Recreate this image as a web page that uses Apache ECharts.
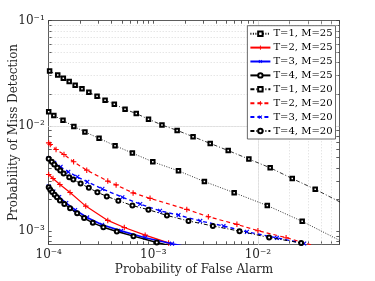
<!DOCTYPE html>
<html><head><meta charset="utf-8">
<script src="https://cdn.jsdelivr.net/npm/echarts@6/dist/echarts.min.js"></script>
<style>html,body{margin:0;padding:0;background:#fff}#c{width:375px;height:281px}</style>
</head><body><div id="c"></div>
<script>
// ---- data ----
const seriesNames = ['T=1, M=25','T=2, M=25','T=3, M=25','T=4, M=25','T=1, M=20','T=2, M=20','T=3, M=20','T=4, M=20'];
const xTickLabels = [1e-4, 1e-3, 1e-2];
const yTickLabels = [1e-3, 1e-2, 1e-1];

const t1m25 = [[1.0e-4,0.0136],[1.12e-4,0.01253],[1.37e-4,0.0113],[1.74e-4,0.0099],[2.22e-4,0.00877],[3.03e-4,0.00762],[4.31e-4,0.00649],[6.31e-4,0.00552],[9.89e-4,0.00456],[1.74e-3,0.00374],[3.08e-3,0.00296],[5.93e-3,0.00232],[0.0123,0.00175],[0.0265,0.00124],[0.063,0.00080]];
const t2m25 = [[1.0e-4,0.00345],[1.10e-4,0.00317],[1.28e-4,0.00278],[1.60e-4,0.00233],[2.26e-4,0.00173],[3.67e-4,0.001265],[5.28e-4,0.001084],[8.36e-4,0.000916],[1.40e-3,0.000773],[2.25e-3,0.000659]];
const t3m25 = [[1.0e-4,0.00266],[1.11e-4,0.00238],[1.26e-4,0.00211],[1.47e-4,0.00185],[1.79e-4,0.00159],[2.33e-4,0.00135],[3.24e-4,0.00115],[4.92e-4,0.001006],[8.36e-4,0.000867],[1.51e-3,0.00076],[2.81e-3,0.000666]];
const t4m25 = [[1.0e-4,0.00261],[1.035e-4,0.00248],[1.08e-4,0.00236],[1.14e-4,0.00222],[1.20e-4,0.0021],[1.28e-4,0.00196],[1.41e-4,0.00181],[1.60e-4,0.00165],[1.87e-4,0.00148],[2.18e-4,0.00133],[2.64e-4,0.0012],[3.33e-4,0.00109],[4.48e-4,0.000993],[6.46e-4,0.000896],[1.08e-3,0.00078],[2.01e-3,0.000673]];
const t1m20 = [[1.02e-4,0.0333],[1.22e-4,0.0304],[1.38e-4,0.0284],[1.57e-4,0.0264],[1.79e-4,0.0244],[2.08e-4,0.0226],[2.42e-4,0.0209],[2.90e-4,0.0191],[3.46e-4,0.0175],[4.24e-4,0.0161],[5.37e-4,0.0144],[6.87e-4,0.0131],[9.0e-4,0.0116],[1.21e-3,0.0102],[1.69e-3,0.00907],[2.40e-3,0.0079],[3.50e-3,0.00682],[5.2e-3,0.00583],[8.2e-3,0.00484],[0.0131,0.0040],[0.0213,0.00316],[0.0353,0.0025],[0.063,0.00186]];
const t2m20 = [[1.0e-4,0.0069],[1.035e-4,0.00667],[1.175e-4,0.00597],[1.40e-4,0.00535],[1.73e-4,0.00456],[2.31e-4,0.0038],[3.67e-4,0.00299],[4.41e-4,0.00275],[6.41e-4,0.00231],[9.31e-4,0.00205],[2.09e-3,0.00161],[3.36e-3,0.00137],[6.3e-3,0.00116],[0.0100,0.00101],[0.0186,0.000867],[0.0331,0.000735]];
const t3m20 = [[1.0e-4,0.00491],[1.13e-4,0.00447],[1.30e-4,0.00408],[1.54e-4,0.00366],[1.88e-4,0.00328],[2.34e-4,0.00294],[3.26e-4,0.00252],[5.06e-4,0.0021],[7.5e-4,0.00181],[1.16e-3,0.00156],[1.74e-3,0.00142],[2.81e-3,0.00125],[4.69e-3,0.00112],[7.85e-3,0.000985],[0.0152,0.000863],[0.0277,0.000763]];
const t4m20 = [[1.0e-4,0.00488],[1.07e-4,0.00456],[1.13e-4,0.0043],[1.21e-4,0.0040],[1.29e-4,0.00377],[1.39e-4,0.00353],[1.57e-4,0.00326],[1.72e-4,0.00309],[2.02e-4,0.00283],[2.42e-4,0.00258],[2.92e-4,0.00234],[3.59e-4,0.00214],[4.63e-4,0.00195],[6.31e-4,0.00175],[8.98e-4,0.0016],[1.35e-3,0.00141],[2.17e-3,0.00125],[3.71e-3,0.00112],[6.67e-3,0.0010],[0.0128,0.00087],[0.0259,0.000773]];

// ---- presentation ----
const X_MIN = 1e-4, X_MAX = 0.06, Y_MIN = 7.5e-4, Y_MAX = 0.1;
const FONT = 'DejaVu Serif';
const PLUS = 'path://M4,0H6V4H10V6H6V10H4V6H0V4H4Z';

function logTicks(min, max) {
  const out = [];
  for (let e = -6; e <= 0; e++) for (let m = 1; m <= 9; m++) {
    const v = +(m * Math.pow(10, e)).toPrecision(3);
    if (v >= min * 0.9999 && v <= max * 1.0001) out.push(v);
  }
  return out;
}
const xTicks = logTicks(X_MIN, X_MAX);
const yTicks = logTicks(Y_MIN, Y_MAX);
const isMajor = v => Math.abs(Math.log10(v) - Math.round(Math.log10(v))) < 1e-6;

const gridLines = [];
xTicks.forEach(v => { if (v > X_MIN && v < X_MAX) gridLines.push({xAxis: v, lineStyle: isMajor(v) ? {type:'solid', color:'#e2e2e2', width:0.8} : {type:[1,2], color:'#d0d0d0', width:0.8}}); });
yTicks.forEach(v => { if (v > Y_MIN && v < Y_MAX) gridLines.push({yAxis: v, lineStyle: isMajor(v) ? {type:'solid', color:'#e2e2e2', width:0.8} : {type:[1,2], color:'#d0d0d0', width:0.8}}); });

const SUP = {'0':'\u2070','1':'\u00b9','2':'\u00b2','3':'\u00b3','4':'\u2074','5':'\u2075','6':'\u2076','7':'\u2077','8':'\u2078','9':'\u2079','-':'\u207b'};
function fmt(v) {
  const e = String(Math.round(Math.log10(v)));
  return '10' + e.split('').map(c => SUP[c]).join('');
}
const axisLine = {show: true, lineStyle: {color: '#333', width: 0.8}};
const tickStyle = {color: '#333', width: 0.8};

function xAx(pos, main) {
  return {
    type: 'log', logBase: 10, min: X_MIN, max: X_MAX, position: pos,
    axisLine, splitLine: {show: false},
    axisTick: {show: true, inside: true, length: 3, customValues: xTicks, lineStyle: tickStyle},
    axisLabel: main ? {show: true, customValues: xTickLabels, formatter: fmt, align: 'center', margin: 5,
                       fontFamily: FONT, fontSize: 12, color: '#262626'} : {show: false},
    name: main ? 'Probability of False Alarm' : '', nameLocation: 'middle', nameGap: 20, nameMoveOverlap: false,
    nameTextStyle: {fontFamily: FONT, fontSize: 12, color: '#262626'}
  };
}
function yAx(pos, main) {
  return {
    type: 'log', logBase: 10, min: Y_MIN, max: Y_MAX, position: pos,
    axisLine, splitLine: {show: false},
    axisTick: {show: true, inside: true, length: 3, customValues: yTicks, lineStyle: tickStyle},
    axisLabel: main ? {show: true, customValues: yTickLabels, formatter: fmt, align: 'right', margin: 4,
                       fontFamily: FONT, fontSize: 12, color: '#262626'} : {show: false},
    name: main ? 'Probability of Miss Detection' : '', nameLocation: 'middle', nameGap: 29, nameMoveOverlap: false,
    nameTextStyle: {fontFamily: FONT, fontSize: 12, color: '#262626'}
  };
}

const styles = [
  {data: t1m25, color: '#000', type: [1,1.5], width: 0.8, symbol: 'emptyRect', size: 3.5},
  {data: t2m25, color: '#ff0000', type: 'solid', width: 1.2, symbol: PLUS, size: 5.5},
  {data: t3m25, color: '#0000ff', type: 'solid', width: 1.6, symbol: PLUS, size: 5.5, rot: 45},
  {data: t4m25, color: '#000', type: 'solid', width: 1.4, symbol: 'emptyCircle', size: 4},
  {data: t1m20, color: '#000', type: [4,2,1,2], width: 0.8, symbol: 'emptyRect', size: 3.5},
  {data: t2m20, color: '#ff0000', type: [4,3], width: 1.2, symbol: PLUS, size: 5.5},
  {data: t3m20, color: '#0000ff', type: [4,3], width: 1.4, symbol: PLUS, size: 5.5, rot: 45},
  {data: t4m20, color: '#000', type: [4,2,1,2], width: 1.0, symbol: 'emptyCircle', size: 4}
];

const series = styles.map((s, i) => {
  const o = {
    name: seriesNames[i], type: 'line', data: s.data, xAxisIndex: 0, yAxisIndex: 0,
    clip: true, smooth: false, showAllSymbol: true,
    symbol: s.symbol, symbolSize: s.size, symbolRotate: s.rot || 0,
    lineStyle: {color: s.color, width: s.width, type: s.type},
    itemStyle: {color: s.color, borderColor: s.color, borderWidth: s.symbol === PLUS ? 0 : 1},
    z: 3 + i, animation: false, silent: true
  };
  if (i === 0) {
    o.markLine = {silent: true, symbol: ['none','none'], label: {show: false}, z: 1, animation: false, data: gridLines};
  }
  return o;
});

const chart = echarts.init(document.getElementById('c'), null, {renderer: 'canvas'});
chart.setOption({
  animation: false,
  backgroundColor: '#fff',
  grid: {left: 48.7, top: 20.7, right: 35.7, bottom: 36.7, containLabel: false, outerBoundsMode: 'none'},
  xAxis: [xAx('bottom', true), xAx('top', false)],
  yAxis: [yAx('left', true), yAx('right', false)],
  legend: {
    data: seriesNames, orient: 'vertical', right: 39.5, top: 25.7,
    backgroundColor: '#fff', borderColor: '#444', borderWidth: 0.8,
    padding: [3, 3, 3, 2], itemWidth: 20, itemHeight: 5.5, itemGap: 3.9,
    selectedMode: false,
    textStyle: {fontFamily: FONT, fontSize: 10, lineHeight: 10, color: '#000', padding: [0,0,0,-2]}
  },
  series
});
</script>
</body></html>
